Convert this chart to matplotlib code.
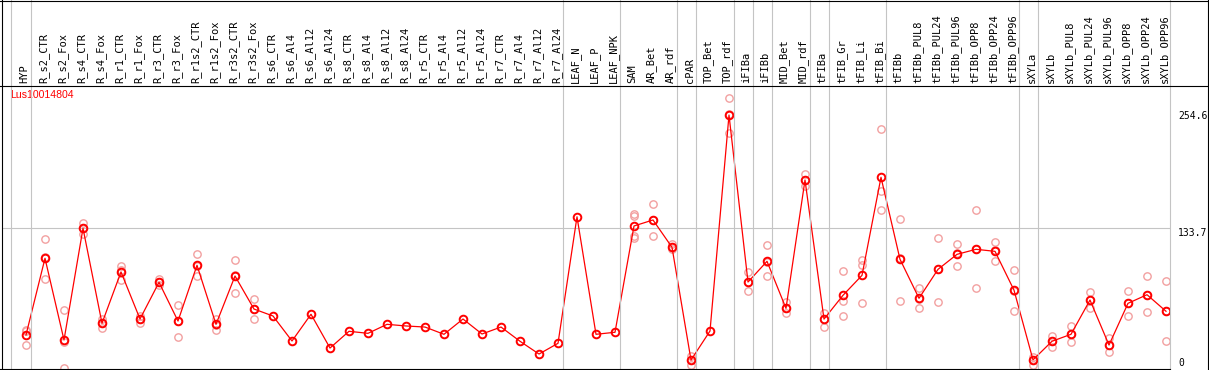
import matplotlib
matplotlib.use("Agg")
import matplotlib.pyplot as plt
from matplotlib.lines import Line2D
import matplotlib.transforms as mtransforms

# ---------------- data ----------------
gene = "Lus10014804"

categories = [
    "HYP", "R_s2_CTR", "R_s2_Fox", "R_s4_CTR", "R_s4_Fox", "R_r1_CTR", "R_r1_Fox",
    "R_r3_CTR", "R_r3_Fox", "R_r1s2_CTR", "R_r1s2_Fox", "R_r3s2_CTR", "R_r3s2_Fox",
    "R_s6_CTR", "R_s6_Al4", "R_s6_Al12", "R_s6_Al24", "R_s8_CTR", "R_s8_Al4",
    "R_s8_Al12", "R_s8_Al24", "R_r5_CTR", "R_r5_Al4", "R_r5_Al12", "R_r5_Al24",
    "R_r7_CTR", "R_r7_Al4", "R_r7_Al12", "R_r7_Al24", "LEAF_N", "LEAF_P", "LEAF_NPK",
    "SAM", "AR_Bet", "AR_rdf", "cPAR", "TOP_Bet", "TOP_rdf", "iFIBa", "iFIBb",
    "MID_Bet", "MID_rdf", "tFIBa", "tFIB_Gr", "tFIB_Li", "tFIB_Bi", "tFIBb",
    "tFIBb_PUL8", "tFIBb_PUL24", "tFIBb_PUL96", "tFIBb_OPP8", "tFIBb_OPP24",
    "tFIBb_OPP96", "sXYLa", "sXYLb", "sXYLb_PUL8", "sXYLb_PUL24", "sXYLb_PUL96",
    "sXYLb_OPP8", "sXYLb_OPP24", "sXYLb_OPP96",
]

mean_values = [
    27.4, 106.6, 22.2, 137.6, 39.5, 92.5, 43.9, 81.8, 41.8, 99.4, 38.4, 88.3, 54.2,
    47.0, 21.2, 48.8, 13.9, 31.2, 29.1, 38.4, 36.7, 35.6, 28.1, 43.9, 28.4,
    35.6, 20.9, 7.7, 18.8, 149.5, 28.1, 30.2,
    140.0, 146.2, 118.0, 1.5, 31.5, 254.6, 82.1, 103.5,
    54.9, 187.5, 43.8, 68.4, 89.0, 190.3, 105.6,
    65.3, 95.2, 110.7, 115.9, 113.8,
    73.7, 1.7, 20.9, 28.1, 63.5, 17.0,
    60.1, 69.0, 51.9,
]

replicates = [
    [33, 32, 17], [127, 108, 85], [53, 20, -7], [143, 138, 132], [44, 40, 35],
    [99, 95, 84], [47, 44, 40], [85, 82, 79], [58, 42, 25], [111, 99, 88],
    [44, 38, 33], [105, 89, 71], [65, 54, 44],
    [], [], [], [], [], [], [], [], [], [], [], [], [], [], [], [], [], [], [],
    [152, 150, 130, 128], [163, 146, 130], [121, 118, 116], [5.7, 1.5, -3.5],
    [], [272, 256, 236], [92, 82, 73], [120, 103, 88],
    [61, 55, 50], [194, 187, 181], [50, 44, 36], [94, 62, 47], [105, 100, 60],
    [240, 176, 157], [147, 107, 63],
    [76, 65, 55], [128, 96, 61], [121, 112, 99], [156, 116, 76], [123, 115, 104],
    [95, 73, 52], [5, 2, -3.5], [26, 21, 15], [37, 28, 20], [72, 64, 55], [24, 17, 10],
    [73, 60, 47], [88, 69, 51], [83, 52, 21],
]

# indices of the last column of each group (separator after it)
group_ends = [0, 28, 31, 34, 35, 37, 38, 39, 41, 42, 45, 52, 53]

right_ticks = [0, 133.7, 254.6]
right_labels = ["0", "133.7", "254.6"]

# ---------------- layout ----------------
W, H = 1209, 370
fig = plt.figure(figsize=(W / 100, H / 100), dpi=100)
fig.patch.set_facecolor("white")

def fx(px):
    return px / W

def fy(py):
    return 1 - py / H

ax_left, ax_right, ax_top, ax_bottom = 1.5, 1170, 86, 369
ax = fig.add_axes([fx(ax_left), fy(ax_bottom), fx(ax_right - ax_left), (ax_bottom - ax_top) / H])
ax.set_facecolor("white")
for s in ax.spines.values():
    s.set_visible(False)

x0_px, dx_px = 26, 19
ax.set_xlim((ax_left - x0_px) / dx_px, (ax_right - x0_px) / dx_px)
y0_px, dy_px = 361.5, 0.968
ax.set_ylim((y0_px - ax_bottom) / dy_px, (y0_px - ax_top) / dy_px)

xs = list(range(len(categories)))

red = "#ff0000"
pink = "#f2a0a0"
grey = "#c4c4c4"

# mid horizontal grey line
ax.plot([0, 1], [0.5, 0.5], transform=ax.transAxes, color=grey, lw=0.8, zorder=1)

# replicates
for x, reps in zip(xs, replicates):
    if reps:
        ax.plot([x] * len(reps), reps, linestyle="none", marker="o", markersize=5.3,
                mfc="none", mec=pink, mew=1.0, zorder=2, clip_on=True)

# mean line
ax.plot(xs, mean_values, color=red, lw=0.9, marker="o", markersize=5.5,
        mfc="none", mec=red, mew=1.4, zorder=3)

# top category labels
ax.set_xticks(xs)
ax.set_xticklabels(categories, rotation=90, family="DejaVu Sans Mono", fontsize=7.5)
ax.xaxis.tick_top()
ax.tick_params(axis="x", length=0, pad=2.5)
offset = mtransforms.ScaledTranslation(-1.5 / 100, 0, fig.dpi_scale_trans)
for lab in ax.get_xticklabels():
    lab.set_transform(lab.get_transform() + offset)

# right value labels
ax.yaxis.tick_right()
ax.set_yticks(right_ticks)
ax.set_yticklabels(right_labels, family="DejaVu Sans Mono", fontsize=7.0)
ax.tick_params(axis="y", length=0, pad=6)

# frame lines (figure pixel coordinates)
def fline(x1, y1, x2, y2, color, lw=0.8):
    fig.add_artist(Line2D([fx(x1), fx(x2)], [fy(y1), fy(y2)], color=color, lw=lw,
                          transform=fig.transFigure, zorder=5))

# vertical group separators
sep_px = [10.7] + [x0_px + dx_px * i + 4.5 for i in group_ends] + [ax_right]
for p in sep_px:
    fline(p, 0, p, ax_bottom, grey)

fline(1.5, 0, 1.5, H, "black")            # left border
fline(0, 0.5, W, 0.5, "black")            # top border
fline(W - 1.5, 0, W - 1.5, H, "black")    # right border
fline(0, 85.5, W, 85.5, "black")          # header separator
fline(0, 369, ax_right, 369, "black")     # bottom of plot

fig.text(fx(10), fy(95), gene, color=red, fontsize=7.6, family="Liberation Sans",
         ha="left", va="center")

fig.savefig("out.png", dpi=100, facecolor="white")
